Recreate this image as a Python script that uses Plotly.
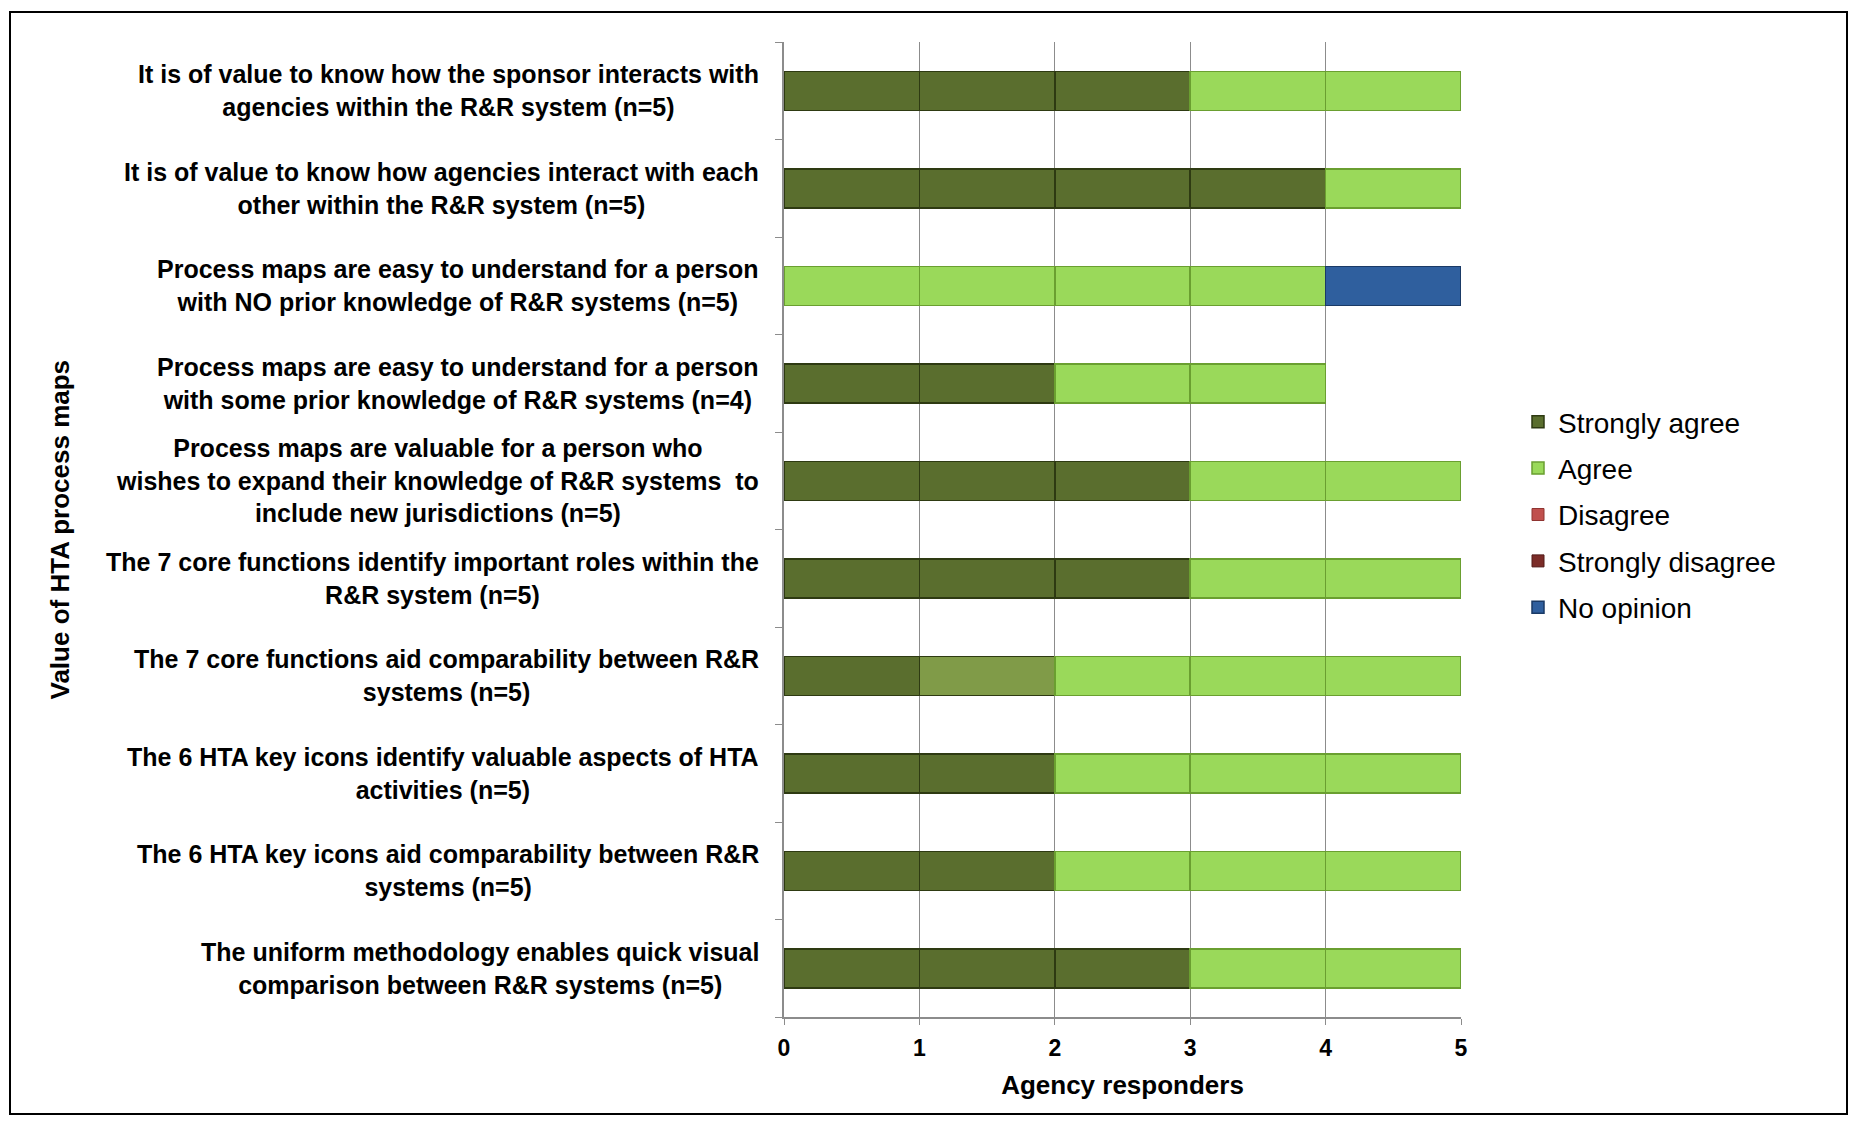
import plotly.graph_objects as go

# ---------------- data ----------------
labels = [
    "It is of value to know how the sponsor interacts with<br>agencies within the R&R system (n=5)",
    "It is of value to know how agencies interact with each<br>other within the R&R system (n=5)",
    "Process maps are easy to understand for a person<br>with NO prior knowledge of R&R systems (n=5)",
    "Process maps are easy to understand for a person<br>with some prior knowledge of R&R systems (n=4)",
    "Process maps are valuable for a person who<br>wishes to expand their knowledge of R&R systems  to<br>include new jurisdictions (n=5)",
    "The 7 core functions identify important roles within the<br>R&R system (n=5)",
    "The 7 core functions aid comparability between R&R<br>systems (n=5)",
    "The 6 HTA key icons identify valuable aspects of HTA<br>activities (n=5)",
    "The 6 HTA key icons aid comparability between R&R<br>systems (n=5)",
    "The uniform methodology enables quick visual<br>comparison between R&R systems (n=5)",
]
series_names = ["Strongly agree", "Agree", "Disagree", "Strongly disagree", "No opinion"]
strongly_agree = [3, 4, 0, 2, 3, 3, 2, 2, 2, 3]
agree = [2, 1, 4, 2, 2, 2, 3, 3, 3, 2]
disagree = [0, 0, 0, 0, 0, 0, 0, 0, 0, 0]
strongly_disagree = [0, 0, 0, 0, 0, 0, 0, 0, 0, 0]
no_opinion = [0, 0, 1, 0, 0, 0, 0, 0, 0, 0]
series_values = [strongly_agree, agree, disagree, strongly_disagree, no_opinion]
x_ticks = [0, 1, 2, 3, 4, 5]

# ---------------- styles ----------------
fill = {
    "Strongly agree": "#5a6e2e",
    "Agree": "#9ad95a",
    "Disagree": "#c0504d",
    "Strongly disagree": "#7b2c28",
    "No opinion": "#2f5f9e",
}
edge = {
    "Strongly agree": "#2e3a12",
    "Agree": "#6a9f30",
    "Disagree": "#8f3431",
    "Strongly disagree": "#521a17",
    "No opinion": "#1a3a66",
}
# one segment in the reference is drawn in a lighter olive (row 7, 2nd unit)
highlight = {(6, "Strongly agree", 1): "#809b48"}

OFF = 8  # page body margin
W, H = 1857 - 2 * OFF, 1126 - 2 * OFF
# plot area in page pixels
PL, PR, PT, PB = 784, 1461, 42, 1017
L, R, T, B = PL - OFF, W - (PR - OFF), PT - OFF, H - (PB - OFF)
pw, ph = W - L - R, H - T - B


def px_x(p):
    return (p - OFF - L) / pw


def px_y(p):
    return (H - B - (p - OFF)) / ph


FONT = "Liberation Sans, Arial, sans-serif"
fig = go.Figure()
n = len(labels)
ys = list(range(n))

for name, vals in zip(series_names, series_values):
    mx = max(vals)
    if mx == 0:
        fig.add_trace(go.Bar(
            x=[None] * n, y=ys, orientation="h", name=name, legendgroup=name,
            marker=dict(color=fill[name], line=dict(color=edge[name], width=1)),
            width=0.4, showlegend=True,
        ))
        continue
    for k in range(mx):
        xv = [1 if v > k else None for v in vals]
        cols = [highlight.get((i, name, k), fill[name]) for i in range(n)]
        fig.add_trace(go.Bar(
            x=xv, y=ys, orientation="h", name=name, legendgroup=name,
            marker=dict(color=cols, line=dict(color=edge[name], width=1.5)),
            width=0.4, showlegend=(k == 0),
        ))

# category labels, centred multi-line blocks
for i, lab in enumerate(labels):
    fig.add_annotation(
        x=px_x(761), xref="paper", y=i, yref="y", text="<b>%s</b>" % lab,
        xanchor="right", yanchor="middle", align="center", showarrow=False,
        font=dict(family=FONT, size=25, color="black"),
    )

# y axis title
fig.add_annotation(
    x=px_x(59), xref="paper", y=0.5, yref="paper", text="<b>Value of HTA process maps</b>",
    textangle=-90, xanchor="center", yanchor="middle", showarrow=False,
    font=dict(family=FONT, size=26, color="black"),
)

# outer frame
fig.add_shape(type="rect", xref="paper", yref="paper",
              x0=px_x(10), x1=px_x(1847), y0=px_y(1114), y1=px_y(12),
              line=dict(color="black", width=2), fillcolor="rgba(0,0,0,0)", layer="below")

fig.update_layout(
    width=W, height=H, barmode="stack", bargap=0.6,
    margin=dict(l=L, r=R, t=T, b=B, autoexpand=False),
    paper_bgcolor="white", plot_bgcolor="white",
    font=dict(family=FONT, color="black"),
    legend=dict(x=px_x(1518), y=px_y(397), xanchor="left", yanchor="top",
                traceorder="grouped", tracegroupgap=7,
                font=dict(family=FONT, size=28, color="black"),
                bgcolor="rgba(0,0,0,0)"),
    xaxis=dict(range=[0, 5], tickvals=x_ticks, ticktext=["<b>%d</b>" % t for t in x_ticks],
               showgrid=True, gridcolor="#8c8c8c", gridwidth=1,
               showline=True, linecolor="#8c8c8c", linewidth=1.5,
               ticks="outside", ticklen=6, tickcolor="#8c8c8c",
               ticklabelstandoff=4,
               tickfont=dict(family=FONT, size=23, color="black"),
               zeroline=False,
               title=dict(text="<b>Agency responders</b>", standoff=15,
                          font=dict(family=FONT, size=26, color="black"))),
    yaxis=dict(range=[n - 0.5, -0.5], tickvals=ys, ticktext=[""] * n,
               showgrid=False, zeroline=False, showline=True,
               linecolor="#8c8c8c", linewidth=1.5, ticks="",
               minor=dict(tickmode="array", tickvals=[i - 0.5 for i in range(n + 1)],
                          ticks="outside", ticklen=7, tickcolor="#8c8c8c", showgrid=False)),
)

fig.write_html("out.html")
